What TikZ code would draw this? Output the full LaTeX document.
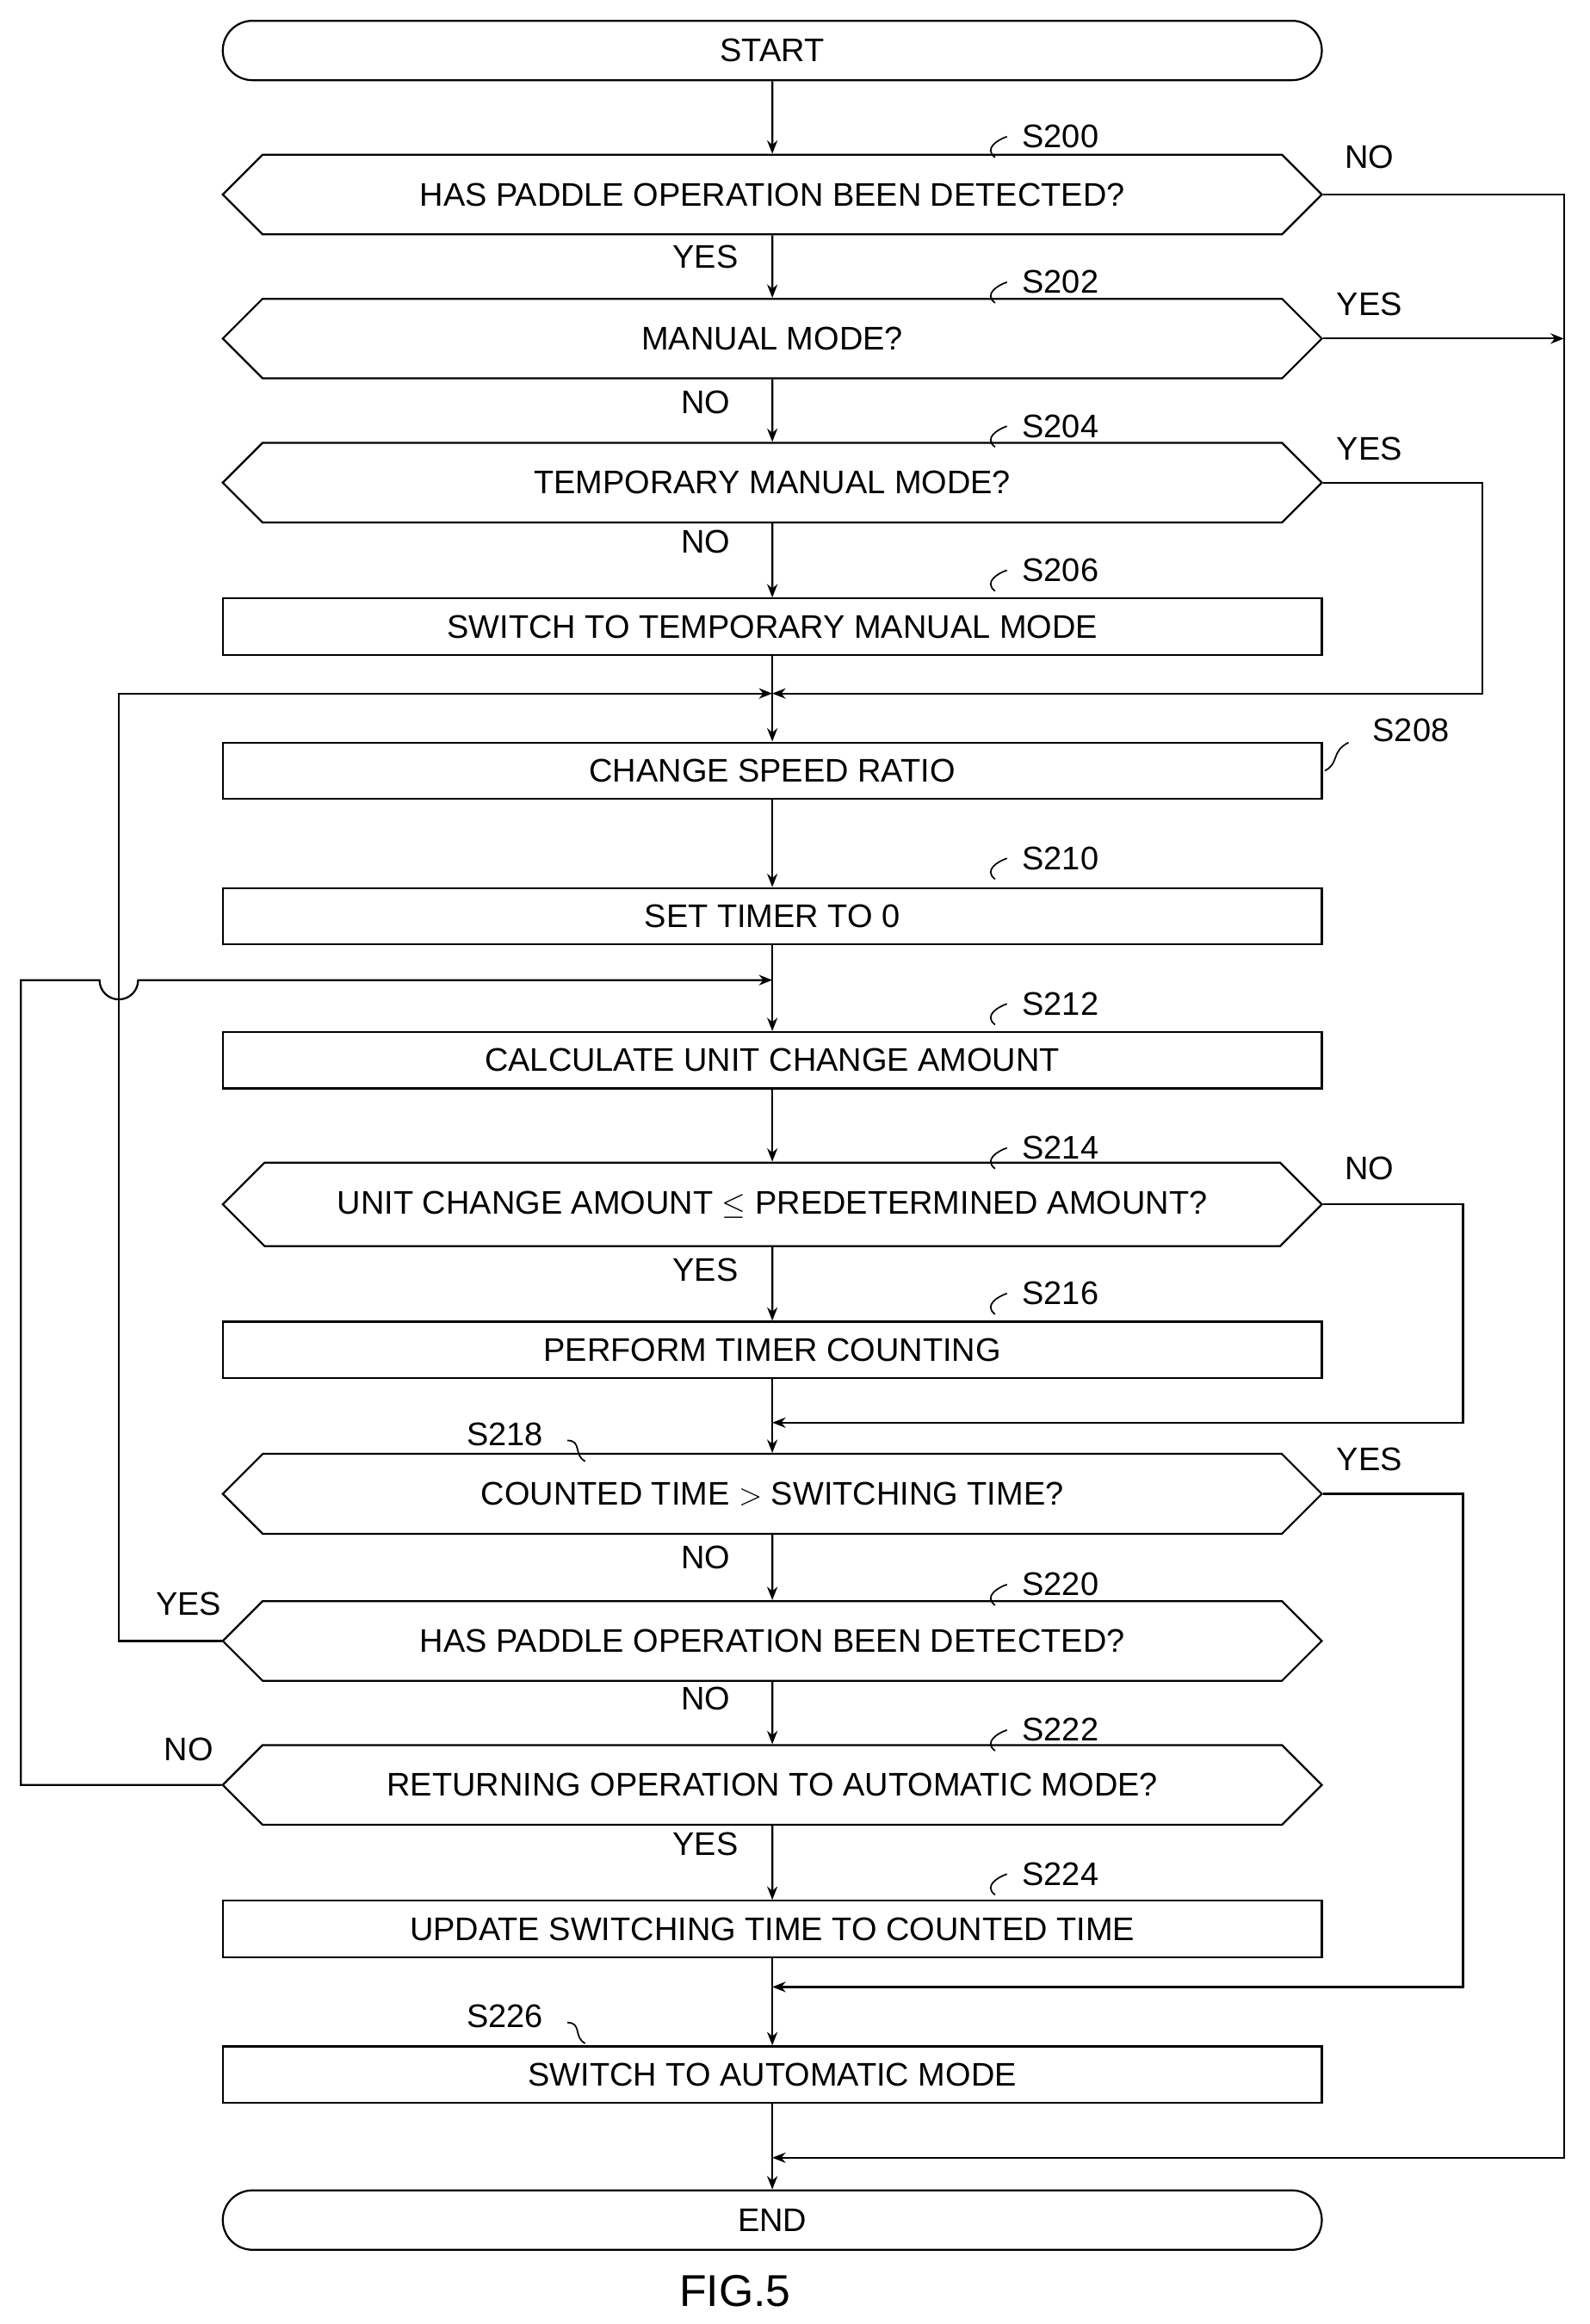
\documentclass[tikz,border=0pt]{standalone}
\usepackage{fontspec}
\setmainfont{Liberation Sans}
\usetikzlibrary{shapes.misc,arrows.meta}
\begin{document}
\begin{tikzpicture}[x=1pt,y=-1pt,
  font=\fontsize{22}{26}\selectfont,
  line width=1.3pt,
  box/.style={draw,rectangle,minimum width=740pt,minimum height=38pt,inner sep=0pt},
  dec/.style={draw,chamfered rectangle,chamfered rectangle xsep=55pt,chamfered rectangle ysep=19pt,minimum width=740pt,minimum height=38pt,inner sep=0pt},
  term/.style={draw,rounded rectangle,minimum width=740pt,minimum height=40pt,inner sep=0pt},
  arr/.style={-{Stealth[length=9pt,width=7pt]}},
  lab/.style={inner sep=0pt},
  squig/.style={line width=1pt}]
\useasboundingbox (0,0) rectangle (1070,1565);
\node[term] (start) at (520,34) {START};
\node[dec] (s200) at (520,131) {HAS PADDLE OPERATION BEEN DETECTED?};
\node[dec] (s202) at (520,228) {MANUAL MODE?};
\node[dec] (s204) at (520,325) {TEMPORARY MANUAL MODE?};
\node[box] (s206) at (520,422) {SWITCH TO TEMPORARY MANUAL MODE};
\coordinate (m1) at (520,467);
\node[box] (s208) at (520,519) {CHANGE SPEED RATIO};
\node[box] (s210) at (520,617) {SET TIMER TO 0};
\coordinate (m2) at (520,660);
\node[box] (s212) at (520,714) {CALCULATE UNIT CHANGE AMOUNT};
\node[dec] (s214) at (520,811) {UNIT CHANGE AMOUNT $\le$ PREDETERMINED AMOUNT?};
\node[box] (s216) at (520,909) {PERFORM TIMER COUNTING};
\coordinate (m3) at (520,958);
\node[dec] (s218) at (520,1006) {COUNTED TIME $>$ SWITCHING TIME?};
\node[dec] (s220) at (520,1105) {HAS PADDLE OPERATION BEEN DETECTED?};
\node[dec] (s222) at (520,1202) {RETURNING OPERATION TO AUTOMATIC MODE?};
\node[box] (s224) at (520,1299) {UPDATE SWITCHING TIME TO COUNTED TIME};
\coordinate (m4) at (520,1338);
\node[box] (s226) at (520,1397) {SWITCH TO AUTOMATIC MODE};
\coordinate (m5) at (520,1453);
\node[term] (end) at (520,1495) {END};
\node[lab,font=\fontsize{30}{34}\selectfont] (fig) at (495,1543) {FIG.5};
% main vertical flow
\draw[arr] (start) -- (s200);
\draw[arr] (s200) -- (s202);
\draw[arr] (s202) -- (s204);
\draw[arr] (s204) -- (s206);
\draw[arr] (s206) -- (s208);
\draw[arr] (s208) -- (s210);
\draw[arr] (s210) -- (s212);
\draw[arr] (s212) -- (s214);
\draw[arr] (s214) -- (s216);
\draw[arr] (s216) -- (s218);
\draw[arr] (s218) -- (s220);
\draw[arr] (s220) -- (s222);
\draw[arr] (s222) -- (s224);
\draw[arr] (s224) -- (s226);
\draw[arr] (s226) -- (end);
% side branches
\coordinate (r1) at (1053,131); \coordinate (r1b) at (1053,1453);
\draw[arr] (s200.east) -- (r1) -- (r1b) -- (m5);
\coordinate (r2) at (1053,228);
\draw[arr] (s202.east) -- (r2);
\coordinate (r3) at (998,325); \coordinate (r3b) at (998,467);
\draw[arr] (s204.east) -- (r3) -- (r3b) -- (m1);
\coordinate (l1) at (80,1105); \coordinate (l1b) at (80,467);
\draw[arr] (s220.west) -- (l1) -- (l1b) -- (m1);
\coordinate (l2) at (14,1202); \coordinate (l2b) at (14,660);
\draw[arr] (s222.west) -- (l2) -- (l2b) -- (67,660) arc[start angle=180,end angle=0,radius=13] -- (m2);
\coordinate (r4) at (985,811); \coordinate (r4b) at (985,958);
\draw[arr] (s214.east) -- (r4) -- (r4b) -- (m3);
\coordinate (r5) at (985,1006); \coordinate (r5b) at (985,1338);
\draw[arr] (s218.east) -- (r5) -- (r5b) -- (m4);
% branch labels
\node[lab] at (922,106) {NO};
\node[lab] at (922,205) {YES};
\node[lab] at (922,302) {YES};
\node[lab] at (922,787) {NO};
\node[lab] at (922,983) {YES};
\node[lab] at (127,1080) {YES};
\node[lab] at (127,1178) {NO};
\node[lab] at (475,173) {YES};
\node[lab] at (475,271) {NO};
\node[lab] at (475,365) {NO};
\node[lab] at (475,855) {YES};
\node[lab] at (475,1049) {NO};
\node[lab] at (475,1144) {NO};
\node[lab] at (475,1242) {YES};
% step labels
\foreach \t/\y in {S200/92,S202/190,S204/287,S206/384,S210/578,S212/676,S214/773,S216/871,S220/1067,S222/1165,S224/1262}{
  \node[lab] at (714,\y) {\t};
  \draw[squig] (670,\y+14) .. controls (662,\y+8) and (672,\y+2) .. (678,\y);
}
\node[lab] at (950,492) {S208};
\draw[squig] (892,519) .. controls (902,514) and (896,506) .. (908,500);
\node[lab] at (340,966) {S218};
\draw[squig] (382,970) .. controls (392,970) and (386,980) .. (394,984);
\node[lab] at (340,1358) {S226};
\draw[squig] (382,1362) .. controls (392,1362) and (386,1372) .. (394,1376);
\end{tikzpicture}
\end{document}
